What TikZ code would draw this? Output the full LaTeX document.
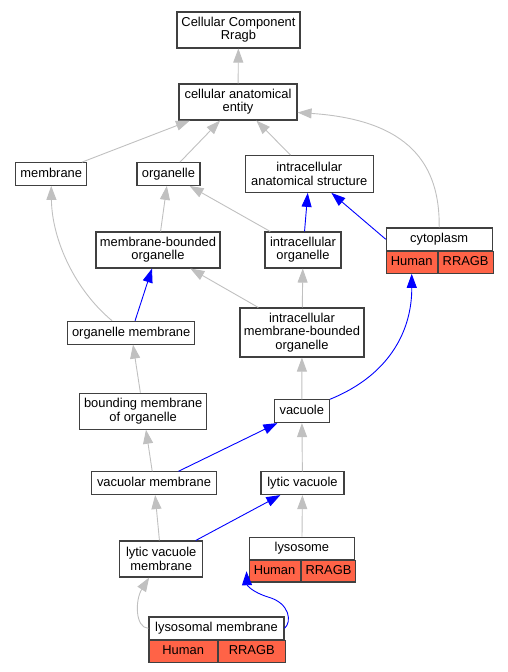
\documentclass[tikz,border=0pt]{standalone}
\usepackage{fontspec}
\setmainfont{Liberation Sans}
\usetikzlibrary{
    arrows.meta,
    positioning
}
\definecolor{boxline}{HTML}{404040}
\definecolor{edgegray}{HTML}{C0C0C0}
\definecolor{hitfill}{HTML}{FF6347}
\tikzset{
    term/.style={draw=boxline, line width=1.1pt, fill=white, inner sep=0pt,
        align=center, font=\fontsize{12.9}{13.3}\selectfont},
    oneline/.style={term, minimum height=22.7pt, text height=9.3pt, text depth=2.7pt},
    twoline/.style={term, minimum height=36pt},
    cell/.style={oneline, fill=hitfill, minimum height=21.5pt, anchor=north west},
    gline/.style={edgegray, line width=0.9pt, -{Triangle[length=14pt,width=10pt]}},
    bline/.style={blue, line width=0.9pt, -{Triangle[length=14pt,width=10pt]}}
}

\begin{document}
\begin{tikzpicture}[x=1pt, y=-1pt]
                        \useasboundingbox (0,0) rectangle (507,672);

                        % terms
                        \node[twoline, minimum width=123pt] (ccr) at (238.5,30) {Cellular Component\\Rragb};
                        \node[twoline, minimum width=118pt] (cae) at (238,102) {cellular anatomical\\entity};
                        \node[oneline, minimum width=71pt] (mem) at (51.2,174) {membrane};
                        \node[oneline, minimum width=63pt] (org) at (168.5,174) {organelle};
                        \node[twoline, minimum width=128pt, minimum height=36.7pt] (ias) at (309.3,174) {intracellular\\anatomical structure};
                        \node[twoline, minimum width=124pt] (mbo) at (158,250) {membrane-bounded\\organelle};
                        \node[twoline, minimum width=76pt] (io) at (303,250) {intracellular\\organelle};
                        \node[oneline, minimum width=127pt] (om) at (131.2,332.7) {organelle membrane};
                        \node[term, minimum width=124pt, minimum height=49pt] (imbo) at (302,332.5) {intracellular\\membrane-bounded\\organelle};
                        \node[twoline, minimum width=127pt] (bmo) at (143.2,411.2) {bounding membrane\\of organelle};
                        \node[oneline, minimum width=55pt] (vac) at (301.8,411.2) {vacuole};
                        \node[oneline, minimum width=124.7pt] (vm) at (154,483.2) {vacuolar membrane};
                        \node[oneline, minimum width=83pt] (lv) at (302.5,483.2) {lytic vacuole};
                        \node[twoline, minimum width=83pt] (lvm) at (161.2,559) {lytic vacuole\\membrane};

                        % terms with annotations
                        \node[oneline, minimum width=105.7pt] (cyt) at (439.2,239.3) {cytoplasm};
                        \node[cell, minimum width=50.7pt] (cyth) at (cyt.south west) {Human};
                        \node[cell, minimum width=55pt] (cytg) at (cyth.north east) {RRAGB};
                        \node[oneline, minimum width=105.7pt, minimum height=22.3pt] (lys) at (301.9,548.2) {lysosome};
                        \node[cell, minimum width=51pt] (lysh) at (lys.south west) {Human};
                        \node[cell, minimum width=54.7pt] (lysg) at (lysh.north east) {RRAGB};
                        \node[oneline, minimum width=135pt] (lm) at (216.5,628.3) {lysosomal membrane};
                        \node[cell, minimum width=68.3pt] (lmh) at (lm.south west) {Human};
                        \node[cell, minimum width=66.7pt] (lmg) at (lmh.north east) {RRAGB};

                        \draw
                        (cae) edge[gline] (ccr)
                        (mem) edge[gline] (cae)
                        (org) edge[gline] (cae)
                        (ias) edge[gline] (cae)
                        (mbo) edge[gline] (org)
                        (io) edge[gline] (org)
                        (io) edge[bline] (ias)
                        (cyt.west) edge[bline] (ias)
                        (om) edge[bline] (mbo)
                        (imbo) edge[gline] (mbo)
                        (imbo) edge[gline] (io)
                        (bmo) edge[gline] (om)
                        (vac) edge[gline] (imbo)
                        (vm) edge[gline] (bmo)
                        (vm) edge[bline] (vac)
                        (lv) edge[gline] (vac)
                        (lvm) edge[gline] (vm)
                        (lvm) edge[bline] (lv)
                        (lys) edge[gline] (lv);

                        % curved links
                        \draw[gline] (cyt.north) .. controls (440,165) and (410,120) .. (cae.-10);
                        \draw[bline] (vac.north east) .. controls (390,375) and (412,330) .. (cyth.south);
                        \draw[gline] ([xshift=45pt]om.north west) .. controls (75,290) and (52,240) .. (mem.south);
                        \draw[gline] (lm.west) .. controls (135,628) and (135,600) .. ([xshift=30pt]lvm.south west);
                        \draw[bline] (lm.east) .. controls (292,622) and (290,603) .. (268,597)
                            .. controls (252,592) and (247,585) .. ([xshift=-2pt]lysh.west);
                    \end{tikzpicture}
\end{document}
